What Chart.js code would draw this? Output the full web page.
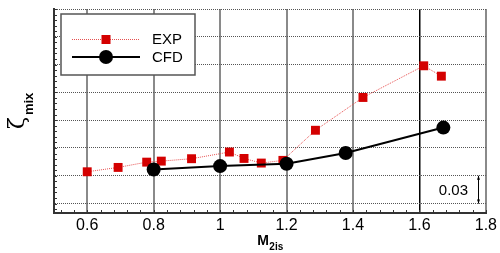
<!DOCTYPE html>
<html>
<head>
<meta charset="utf-8">
<script src="https://cdn.jsdelivr.net/npm/chart.js@4/dist/chart.umd.min.js"></script>
<style>
html, body { margin: 0; padding: 0; background: #fff; }
#wrap { width: 500px; height: 253px; }
</style>
</head>
<body>
<div id="wrap"><canvas id="mixing-loss"></canvas></div>
<script>
"use strict";

// measured data (isentropic exit Mach number vs mixing loss)
var expMach = [0.6, 0.693, 0.779, 0.823, 0.914, 1.028, 1.072, 1.124, 1.189, 1.287, 1.430, 1.613, 1.666];
var expLoss = [0.0343, 0.0390, 0.0447, 0.0458, 0.0484, 0.0556, 0.0487, 0.0437, 0.0466, 0.0791, 0.1145, 0.1487, 0.1375];
var cfdMach = [0.8, 1.0, 1.2, 1.378, 1.672];
var cfdLoss = [0.0368, 0.0404, 0.0430, 0.0545, 0.0820];

var xTicks = [0.6, 0.8, 1.0, 1.2, 1.4, 1.6, 1.8];
var yTicks = [0, 0.03, 0.06, 0.09, 0.12, 0.15, 0.18, 0.21];
var scaleBarSpan = [0, 0.03];
var scaleBarLabel = "0.03";

function toPoints(xs, ys){
	return xs.map(function(x, i){ return {x: x, y: ys[i]}; });
}

var FONT = "'Liberation Sans', Arial, sans-serif";

var decorPlugin = {
	id: 'decor',
	afterDatasetsDraw: function(chart){
		var ctx = chart.ctx;
		var xs = chart.scales.x, ys = chart.scales.y;
		var area = chart.chartArea;
		ctx.save();

		// minor ticks
		ctx.strokeStyle = '#333';
		ctx.lineWidth = 1;
		ctx.beginPath();
		for (var v = -0.006; v <= 0.2101; v += 0.006) {
			var py = Math.round(ys.getPixelForValue(v)) + 0.5;
			ctx.moveTo(area.left, py); ctx.lineTo(area.left + 3, py);
		}
		for (var m = 0.52; m <= 1.801; m += 0.04) {
			var px = Math.round(xs.getPixelForValue(m)) + 0.5;
			ctx.moveTo(px, area.bottom); ctx.lineTo(px, area.bottom - 3);
		}
		ctx.stroke();

		// legend
		var lx = 61, ly = 14, lw = 134, lh = 61;
		ctx.fillStyle = '#fff';
		ctx.fillRect(lx, ly, lw, lh);
		ctx.strokeStyle = '#555';
		ctx.lineWidth = 1.5;
		ctx.strokeRect(lx, ly, lw, lh);

		ctx.strokeStyle = 'rgb(230,80,80)';
		ctx.lineWidth = 1;
		ctx.setLineDash([1, 1]);
		ctx.beginPath(); ctx.moveTo(72, 39.5); ctx.lineTo(140, 39.5); ctx.stroke();
		ctx.setLineDash([]);
		ctx.fillStyle = '#d40000';
		ctx.fillRect(101.5, 35, 9, 9);

		ctx.strokeStyle = '#000';
		ctx.lineWidth = 2;
		ctx.beginPath(); ctx.moveTo(72, 57); ctx.lineTo(140, 57); ctx.stroke();
		ctx.fillStyle = '#000';
		ctx.beginPath(); ctx.arc(106, 57, 7, 0, Math.PI * 2); ctx.fill();

		ctx.font = '15px ' + FONT;
		ctx.textBaseline = 'middle';
		ctx.textAlign = 'left';
		ctx.fillText('EXP', 152, 40);
		ctx.fillText('CFD', 152, 58);

		// scale bar
		var bx = 478.5;
		var b0 = ys.getPixelForValue(scaleBarSpan[0]);
		var b1 = ys.getPixelForValue(scaleBarSpan[1]);
		ctx.strokeStyle = '#000';
		ctx.lineWidth = 1;
		ctx.beginPath(); ctx.moveTo(bx, b0); ctx.lineTo(bx, b1); ctx.stroke();
		ctx.beginPath();
		ctx.moveTo(bx, b1); ctx.lineTo(bx - 1.5, b1 + 4); ctx.lineTo(bx + 1.5, b1 + 4); ctx.closePath();
		ctx.moveTo(bx, b0); ctx.lineTo(bx - 1.5, b0 - 4); ctx.lineTo(bx + 1.5, b0 - 4); ctx.closePath();
		ctx.fill();
		ctx.textAlign = 'right';
		ctx.fillText(scaleBarLabel, 468, (b0 + b1) / 2 + 1);

		// x title: M_2is
		ctx.textBaseline = 'alphabetic';
		ctx.textAlign = 'left';
		ctx.font = 'bold 14px ' + FONT;
		var mW = ctx.measureText('M').width;
		ctx.font = 'bold 10px ' + FONT;
		var sW = ctx.measureText('2is').width;
		var tx = (area.left + area.right) / 2 - (mW + sW) / 2;
		ctx.font = 'bold 14px ' + FONT;
		ctx.fillText('M', tx, 245);
		ctx.font = 'bold 10px ' + FONT;
		ctx.fillText('2is', tx + mW + 0.5, 250);

		// y title: zeta_mix
		ctx.translate(0, 129);
		ctx.rotate(-Math.PI / 2);
		ctx.font = "22px 'DejaVu Serif', serif";
		var zW = ctx.measureText('\u03b6').width;
		ctx.fillText('\u03b6', 0, 24);
		ctx.font = 'bold 13px ' + FONT;
		ctx.fillText('mix', zW + 2, 33);

		ctx.restore();
	}
};

var ctx = document.getElementById("mixing-loss");
var lossChart = new Chart(ctx, {
	type: 'line',
	data: {
		datasets: [{
			label: 'CFD',
			data: toPoints(cfdMach, cfdLoss),
			borderColor: '#000',
			backgroundColor: '#000',
			borderWidth: 2,
			pointStyle: 'circle',
			pointRadius: 7,
			pointBorderWidth: 0,
			pointBackgroundColor: '#000',
			fill: false,
			order: 1
		}, {
			label: 'EXP',
			data: toPoints(expMach, expLoss),
			borderColor: 'rgb(230,80,80)',
			borderWidth: 1,
			borderDash: [1, 1],
			pointStyle: 'rect',
			pointRadius: 6.3,
			pointBorderWidth: 0,
			pointBackgroundColor: '#d40000',
			fill: false,
			order: 2
		}]
	},
	options: {
		responsive: true,
		maintainAspectRatio: false,
		animation: false,
		devicePixelRatio: 1,
		layout: { padding: { left: 54, right: 11, top: 9, bottom: 0 } },
		plugins: {
			legend: { display: false },
			tooltip: { enabled: false }
		},
		scales: {
			x: {
				type: 'linear',
				min: 0.5,
				max: 1.8,
				afterBuildTicks: function(scale){
					scale.ticks = xTicks.map(function(v){ return {value: v}; });
				},
				afterFit: function(scale){ scale.height = 40; },
				ticks: {
					color: '#000',
					padding: 3,
					maxRotation: 0,
					font: { family: FONT, size: 16 },
					callback: function(value){ return String(Math.round(value * 10) / 10); }
				},
				grid: {
					drawTicks: false,
					color: function(c){ return c.tick && Math.abs(c.tick.value - 1.6) < 1e-6 ? '#000' : '#8a8a8a'; },
					lineWidth: function(c){ return c.tick && Math.abs(c.tick.value - 1.6) < 1e-6 ? 1.5 : 2; }
				},
				border: { display: true, color: '#333', width: 2 }
			},
			y: {
				type: 'linear',
				min: -0.0102,
				max: 0.21,
				afterBuildTicks: function(scale){
					scale.ticks = yTicks.map(function(v){ return {value: v}; });
				},
				afterFit: function(scale){ scale.width = 0; },
				ticks: { display: false },
				grid: {
					drawTicks: false,
					color: '#555',
					lineWidth: 1
				},
				border: { display: true, color: '#333', width: 2, dash: [1, 1] }
			}
		}
	},
	plugins: [decorPlugin]
});
</script>
</body>
</html>
